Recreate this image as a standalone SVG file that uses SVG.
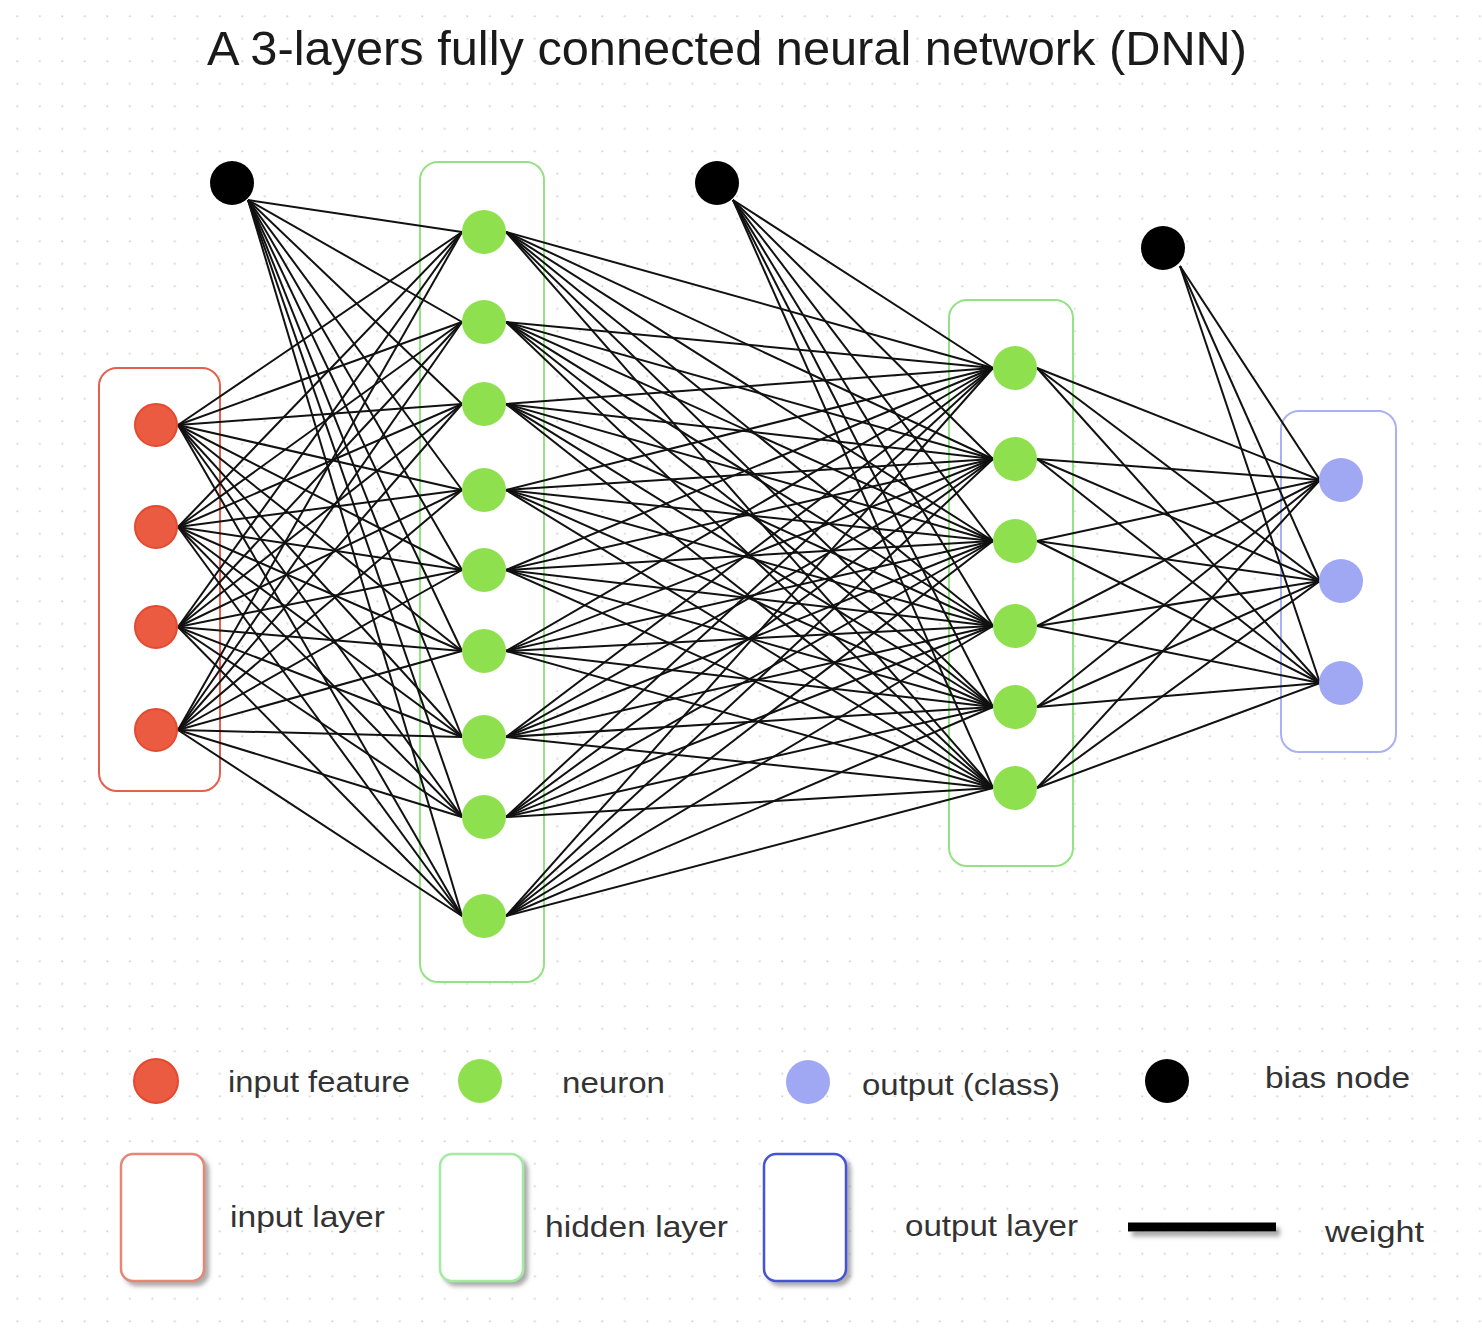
<svg xmlns="http://www.w3.org/2000/svg" width="1482" height="1340" viewBox="0 0 1482 1340">
<defs>
<pattern id="dots" x="16" y="15" width="22.5" height="22.5" patternUnits="userSpaceOnUse">
<circle cx="1.3" cy="1.3" r="1.1" fill="#d4d4d4"/>
</pattern>
<filter id="shadow" x="-20%" y="-20%" width="150%" height="150%">
<feDropShadow dx="4" dy="4" stdDeviation="2" flood-color="#888" flood-opacity="0.7"/>
</filter>
<filter id="lineshadow" filterUnits="userSpaceOnUse" x="1110" y="1205" width="190" height="50">
<feDropShadow dx="4" dy="5" stdDeviation="2" flood-color="#888" flood-opacity="0.7"/>
</filter>
</defs>
<style>
.box{fill:#fff;stroke-width:2}
.inbox{stroke:#e2604c}
.hidbox{stroke:#93e283}
.outbox{stroke:#a9b1f4}
.inp{fill:#ea5b41;stroke:#e34a30;stroke-width:2}
.neu{fill:#8ee04f}
.out{fill:#a0a8f4}
.bias{fill:#000}
.w line{stroke:#111;stroke-width:2}
.lbl{font-family:"Liberation Sans",Arial,sans-serif;font-size:30px;fill:#333}
.title{font-family:"Liberation Sans",Arial,sans-serif;font-size:48px;fill:#1a1a1a}
</style>
<rect width="1482" height="1340" fill="#fff"/>
<rect width="1482" height="1340" fill="url(#dots)"/>
<text class="title" x="207" y="65" textLength="1040" lengthAdjust="spacingAndGlyphs">A 3-layers fully connected neural network (DNN)</text>

<g id="layer-boxes">
<rect id="input-layer-box" class="box inbox" x="99" y="368" width="121" height="423" rx="18"/>
<rect id="hidden-layer-1-box" class="box hidbox" x="420" y="162" width="124" height="820" rx="18"/>
<rect id="hidden-layer-2-box" class="box hidbox" x="949" y="300" width="124" height="566" rx="18"/>
<rect id="output-layer-box" class="box outbox" x="1281" y="411" width="115" height="341" rx="18"/>
</g>

<g id="connectors" class="w">
<line x1="178" y1="425" x2="462" y2="232"/><line x1="178" y1="425" x2="462" y2="322"/><line x1="178" y1="425" x2="462" y2="404"/><line x1="178" y1="425" x2="462" y2="490"/><line x1="178" y1="425" x2="462" y2="570"/><line x1="178" y1="425" x2="462" y2="651"/><line x1="178" y1="425" x2="462" y2="737"/><line x1="178" y1="425" x2="462" y2="817"/><line x1="178" y1="425" x2="462" y2="916"/>
<line x1="178" y1="527" x2="462" y2="232"/><line x1="178" y1="527" x2="462" y2="322"/><line x1="178" y1="527" x2="462" y2="404"/><line x1="178" y1="527" x2="462" y2="490"/><line x1="178" y1="527" x2="462" y2="570"/><line x1="178" y1="527" x2="462" y2="651"/><line x1="178" y1="527" x2="462" y2="737"/><line x1="178" y1="527" x2="462" y2="817"/><line x1="178" y1="527" x2="462" y2="916"/>
<line x1="178" y1="627" x2="462" y2="232"/><line x1="178" y1="627" x2="462" y2="322"/><line x1="178" y1="627" x2="462" y2="404"/><line x1="178" y1="627" x2="462" y2="490"/><line x1="178" y1="627" x2="462" y2="570"/><line x1="178" y1="627" x2="462" y2="651"/><line x1="178" y1="627" x2="462" y2="737"/><line x1="178" y1="627" x2="462" y2="817"/><line x1="178" y1="627" x2="462" y2="916"/>
<line x1="178" y1="730" x2="462" y2="232"/><line x1="178" y1="730" x2="462" y2="322"/><line x1="178" y1="730" x2="462" y2="404"/><line x1="178" y1="730" x2="462" y2="490"/><line x1="178" y1="730" x2="462" y2="570"/><line x1="178" y1="730" x2="462" y2="651"/><line x1="178" y1="730" x2="462" y2="737"/><line x1="178" y1="730" x2="462" y2="817"/><line x1="178" y1="730" x2="462" y2="916"/>

<line x1="248" y1="200" x2="462" y2="232"/><line x1="248" y1="200" x2="462" y2="322"/><line x1="248" y1="200" x2="462" y2="404"/><line x1="248" y1="200" x2="462" y2="490"/><line x1="248" y1="200" x2="462" y2="570"/><line x1="248" y1="200" x2="462" y2="651"/><line x1="248" y1="200" x2="462" y2="737"/><line x1="248" y1="200" x2="462" y2="817"/><line x1="248" y1="200" x2="462" y2="916"/>

<line x1="506" y1="232" x2="993" y2="368"/><line x1="506" y1="232" x2="993" y2="459"/><line x1="506" y1="232" x2="993" y2="541"/><line x1="506" y1="232" x2="993" y2="626"/><line x1="506" y1="232" x2="993" y2="707"/><line x1="506" y1="232" x2="993" y2="788"/>
<line x1="506" y1="322" x2="993" y2="368"/><line x1="506" y1="322" x2="993" y2="459"/><line x1="506" y1="322" x2="993" y2="541"/><line x1="506" y1="322" x2="993" y2="626"/><line x1="506" y1="322" x2="993" y2="707"/><line x1="506" y1="322" x2="993" y2="788"/>
<line x1="506" y1="404" x2="993" y2="368"/><line x1="506" y1="404" x2="993" y2="459"/><line x1="506" y1="404" x2="993" y2="541"/><line x1="506" y1="404" x2="993" y2="626"/><line x1="506" y1="404" x2="993" y2="707"/><line x1="506" y1="404" x2="993" y2="788"/>
<line x1="506" y1="490" x2="993" y2="368"/><line x1="506" y1="490" x2="993" y2="459"/><line x1="506" y1="490" x2="993" y2="541"/><line x1="506" y1="490" x2="993" y2="626"/><line x1="506" y1="490" x2="993" y2="707"/><line x1="506" y1="490" x2="993" y2="788"/>
<line x1="506" y1="570" x2="993" y2="368"/><line x1="506" y1="570" x2="993" y2="459"/><line x1="506" y1="570" x2="993" y2="541"/><line x1="506" y1="570" x2="993" y2="626"/><line x1="506" y1="570" x2="993" y2="707"/><line x1="506" y1="570" x2="993" y2="788"/>
<line x1="506" y1="651" x2="993" y2="368"/><line x1="506" y1="651" x2="993" y2="459"/><line x1="506" y1="651" x2="993" y2="541"/><line x1="506" y1="651" x2="993" y2="626"/><line x1="506" y1="651" x2="993" y2="707"/><line x1="506" y1="651" x2="993" y2="788"/>
<line x1="506" y1="737" x2="993" y2="368"/><line x1="506" y1="737" x2="993" y2="459"/><line x1="506" y1="737" x2="993" y2="541"/><line x1="506" y1="737" x2="993" y2="626"/><line x1="506" y1="737" x2="993" y2="707"/><line x1="506" y1="737" x2="993" y2="788"/>
<line x1="506" y1="817" x2="993" y2="368"/><line x1="506" y1="817" x2="993" y2="459"/><line x1="506" y1="817" x2="993" y2="541"/><line x1="506" y1="817" x2="993" y2="626"/><line x1="506" y1="817" x2="993" y2="707"/><line x1="506" y1="817" x2="993" y2="788"/>
<line x1="506" y1="916" x2="993" y2="368"/><line x1="506" y1="916" x2="993" y2="459"/><line x1="506" y1="916" x2="993" y2="541"/><line x1="506" y1="916" x2="993" y2="626"/><line x1="506" y1="916" x2="993" y2="707"/><line x1="506" y1="916" x2="993" y2="788"/>

<line x1="733" y1="200" x2="993" y2="368"/><line x1="733" y1="200" x2="993" y2="459"/><line x1="733" y1="200" x2="993" y2="541"/><line x1="733" y1="200" x2="993" y2="626"/><line x1="733" y1="200" x2="993" y2="707"/><line x1="733" y1="200" x2="993" y2="788"/>

<line x1="1037" y1="368" x2="1320" y2="480"/><line x1="1037" y1="368" x2="1320" y2="581"/><line x1="1037" y1="368" x2="1320" y2="683"/>
<line x1="1037" y1="459" x2="1320" y2="480"/><line x1="1037" y1="459" x2="1320" y2="581"/><line x1="1037" y1="459" x2="1320" y2="683"/>
<line x1="1037" y1="541" x2="1320" y2="480"/><line x1="1037" y1="541" x2="1320" y2="581"/><line x1="1037" y1="541" x2="1320" y2="683"/>
<line x1="1037" y1="626" x2="1320" y2="480"/><line x1="1037" y1="626" x2="1320" y2="581"/><line x1="1037" y1="626" x2="1320" y2="683"/>
<line x1="1037" y1="707" x2="1320" y2="480"/><line x1="1037" y1="707" x2="1320" y2="581"/><line x1="1037" y1="707" x2="1320" y2="683"/>
<line x1="1037" y1="788" x2="1320" y2="480"/><line x1="1037" y1="788" x2="1320" y2="581"/><line x1="1037" y1="788" x2="1320" y2="683"/>

<line x1="1180" y1="266" x2="1320" y2="480"/><line x1="1180" y1="266" x2="1320" y2="581"/><line x1="1180" y1="266" x2="1320" y2="683"/>
</g>

<g id="bias-1"><circle class="bias" cx="232" cy="183" r="22"/></g>
<g id="bias-2"><circle class="bias" cx="717" cy="183" r="22"/></g>
<g id="bias-3"><circle class="bias" cx="1163" cy="248" r="22"/></g>

<g id="input-1"><circle class="inp" cx="156" cy="425" r="21"/></g>
<g id="input-2"><circle class="inp" cx="156" cy="527" r="21"/></g>
<g id="input-3"><circle class="inp" cx="156" cy="627" r="21"/></g>
<g id="input-4"><circle class="inp" cx="156" cy="730" r="21"/></g>

<g id="h1-1"><circle class="neu" cx="484" cy="232" r="22"/></g>
<g id="h1-2"><circle class="neu" cx="484" cy="322" r="22"/></g>
<g id="h1-3"><circle class="neu" cx="484" cy="404" r="22"/></g>
<g id="h1-4"><circle class="neu" cx="484" cy="490" r="22"/></g>
<g id="h1-5"><circle class="neu" cx="484" cy="570" r="22"/></g>
<g id="h1-6"><circle class="neu" cx="484" cy="651" r="22"/></g>
<g id="h1-7"><circle class="neu" cx="484" cy="737" r="22"/></g>
<g id="h1-8"><circle class="neu" cx="484" cy="817" r="22"/></g>
<g id="h1-9"><circle class="neu" cx="484" cy="916" r="22"/></g>

<g id="h2-1"><circle class="neu" cx="1015" cy="368" r="22"/></g>
<g id="h2-2"><circle class="neu" cx="1015" cy="459" r="22"/></g>
<g id="h2-3"><circle class="neu" cx="1015" cy="541" r="22"/></g>
<g id="h2-4"><circle class="neu" cx="1015" cy="626" r="22"/></g>
<g id="h2-5"><circle class="neu" cx="1015" cy="707" r="22"/></g>
<g id="h2-6"><circle class="neu" cx="1015" cy="788" r="22"/></g>

<g id="out-1"><circle class="out" cx="1341" cy="480" r="22"/></g>
<g id="out-2"><circle class="out" cx="1341" cy="581" r="22"/></g>
<g id="out-3"><circle class="out" cx="1341" cy="683" r="22"/></g>

<g id="legend">
<g id="legend-input-feature">
<circle class="inp" cx="156" cy="1081" r="22"/>
<text class="lbl" x="228" y="1092" textLength="182" lengthAdjust="spacingAndGlyphs">input feature</text>
</g>
<g id="legend-neuron">
<circle class="neu" cx="480" cy="1081" r="22"/>
<text class="lbl" x="562" y="1093" textLength="103" lengthAdjust="spacingAndGlyphs">neuron</text>
</g>
<g id="legend-output">
<circle class="out" cx="808" cy="1082" r="22"/>
<text class="lbl" x="862" y="1095" textLength="198" lengthAdjust="spacingAndGlyphs">output (class)</text>
</g>
<g id="legend-bias">
<circle class="bias" cx="1167" cy="1081" r="22"/>
<text class="lbl" x="1265" y="1088" textLength="145" lengthAdjust="spacingAndGlyphs">bias node</text>
</g>
<g id="legend-input-layer">
<rect x="121" y="1154" width="83" height="127" rx="12" fill="#fff" stroke="#e58676" stroke-width="2.5" filter="url(#shadow)"/>
<text class="lbl" x="230" y="1227" textLength="155" lengthAdjust="spacingAndGlyphs">input layer</text>
</g>
<g id="legend-hidden-layer">
<rect x="440" y="1154" width="83" height="127" rx="12" fill="#fff" stroke="#a3eaa3" stroke-width="2.5" filter="url(#shadow)"/>
<text class="lbl" x="545" y="1237" textLength="183" lengthAdjust="spacingAndGlyphs">hidden layer</text>
</g>
<g id="legend-output-layer">
<rect x="764" y="1154" width="82" height="127" rx="12" fill="#fff" stroke="#4452d6" stroke-width="2.5" filter="url(#shadow)"/>
<text class="lbl" x="905" y="1236" textLength="173" lengthAdjust="spacingAndGlyphs">output layer</text>
</g>
<g id="legend-weight">
<line x1="1128" y1="1227" x2="1276" y2="1227" stroke="#000" stroke-width="9" filter="url(#lineshadow)"/>
<text class="lbl" x="1325" y="1242" textLength="99" lengthAdjust="spacingAndGlyphs">weight</text>
</g>
</g>
</svg>
